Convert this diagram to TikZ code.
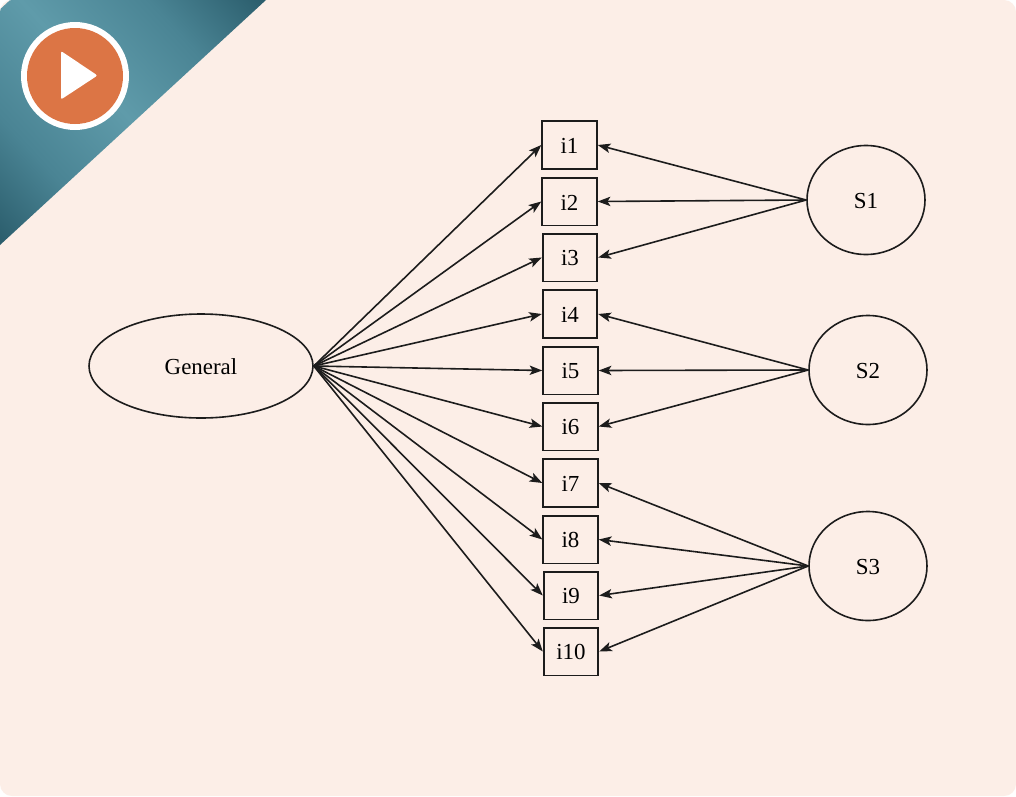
\documentclass[tikz,border=0pt]{standalone}
\usepackage{fontspec}
\setmainfont{Liberation Serif}
\usetikzlibrary{shapes.geometric,arrows.meta}
\definecolor{bgpeach}{HTML}{FCEEE7}
\definecolor{inkc}{HTML}{1C1C1C}
\definecolor{tealL}{HTML}{5F9BAA}
\definecolor{tealM}{HTML}{4A8494}
\definecolor{tealD}{HTML}{2A5C6B}
\definecolor{playor}{HTML}{DC7545}
\pgfdeclarehorizontalshading{bannershade}{100bp}{
  color(0bp)=(tealD);
  color(25bp)=(tealD);
  color(37bp)=(tealM);
  color(50bp)=(tealL);
  color(63bp)=(tealM);
  color(75bp)=(tealD);
  color(100bp)=(tealD)}
\newcommand{\lowtxt}[1]{\raisebox{-0.7pt}[\height][\depth]{#1}}
\tikzset{
  itembox/.style={draw=inkc,line width=1.3pt,minimum width=41pt,minimum height=35.8pt,inner sep=0pt,text=black,font=\fontsize{17.2}{19}\selectfont},
  latent/.style={ellipse,draw=inkc,line width=1.2pt,inner sep=0pt,text=black,font=\fontsize{17.2}{19}\selectfont},
  link/.style={draw=inkc,line width=1.2pt,-{Stealth[length=9.5pt,width=7pt,inset=2.2pt]}}
}
\begin{document}
\begin{tikzpicture}[x=0.75pt,y=-0.75pt]
\useasboundingbox (0,0) rectangle (1016,796);
\fill[white] (0,0) rectangle (1016,796);
\fill[bgpeach,rounded corners=9pt] (0,0) rectangle (1016,796);
% corner banner
\begin{scope}
  \clip[rounded corners=9pt] (0,0) rectangle (1016,796);
  \clip (0,0) -- (266,0) -- (0,245) -- cycle;
  \begin{scope}[transform canvas={shift={(99.75pt,-91.9pt)},rotate=42.6}]
    \shade[shading=bannershade]
      (-136pt,-130pt) rectangle (136pt,130pt);
  \end{scope}
\end{scope}
\fill[white] (75,76) circle (40.5pt);
\fill[playor] (75,76) circle (36pt);
\fill[white,rounded corners=1.5pt] (61,51) -- (97.5,75.5) -- (61,99.5) -- cycle;
% latent variables
\node[latent,minimum width=168pt,minimum height=78pt] (gen) at (201,366) {\lowtxt{General}};
\node[latent,minimum width=88.5pt,minimum height=81.75pt] (s1) at (866,200) {\lowtxt{S1}};
\node[latent,minimum width=88.5pt,minimum height=81.75pt] (s2) at (868,370) {\lowtxt{S2}};
\node[latent,minimum width=88.5pt,minimum height=81.75pt] (s3) at (868,566) {\lowtxt{S3}};
% items
\node[itembox] (i1) at (569.5,145) {\lowtxt{i1}};
\node[itembox] (i2) at (569.5,201.5) {\lowtxt{i2}};
\node[itembox] (i3) at (570,257.5) {\lowtxt{i3}};
\node[itembox] (i4) at (570,314) {\lowtxt{i4}};
\node[itembox] (i5) at (570.5,370.5) {\lowtxt{i5}};
\node[itembox] (i6) at (570.5,426.5) {\lowtxt{i6}};
\node[itembox] (i7) at (570.5,483) {\lowtxt{i7}};
\node[itembox] (i8) at (570.5,539.5) {\lowtxt{i8}};
\node[itembox] (i9) at (571,595.5) {\lowtxt{i9}};
\node[itembox] (i10) at (571,651.5) {\lowtxt{i10}};
% connectors
\foreach \n in {i1,i2,i3,i4,i5,i6,i7,i8,i9,i10}
  \draw[link] (gen.east) -- (\n.west);
\foreach \n in {i1,i2,i3}
  \draw[link] (s1.west) -- (\n.east);
\foreach \n in {i4,i5,i6}
  \draw[link] (s2.west) -- (\n.east);
\foreach \n in {i7,i8,i9,i10}
  \draw[link] (s3.west) -- (\n.east);
\end{tikzpicture}
\end{document}
